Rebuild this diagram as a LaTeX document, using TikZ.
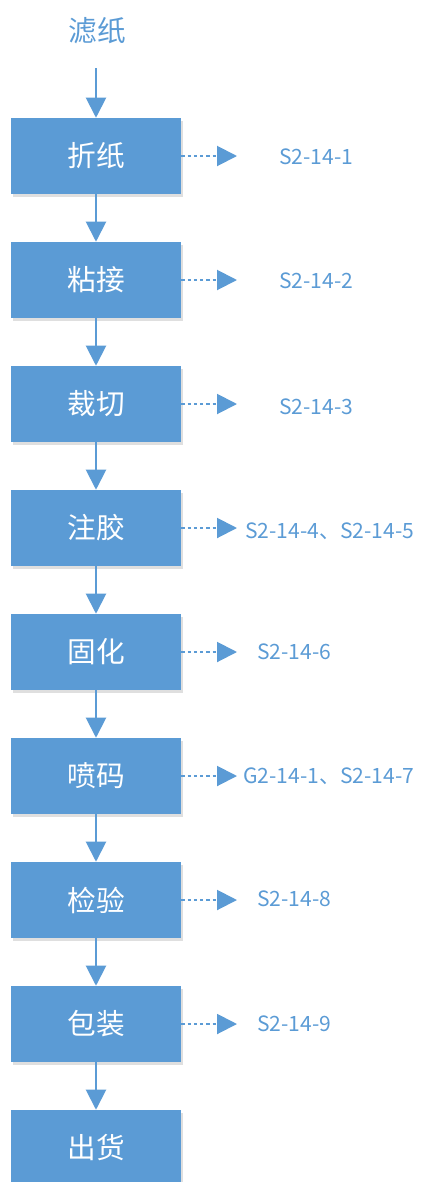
\documentclass[tikz,border=0pt]{standalone}
\usepackage{fontspec}
\setmainfont{Noto Sans CJK SC}
\usetikzlibrary{arrows.meta,shadows}
\definecolor{bx}{HTML}{5B9BD5}
\tikzset{
  proc/.style={fill=bx, draw=none, minimum width=127.5pt, minimum height=57pt, inner sep=0pt,
    text=white, font=\fontsize{21.5}{21.5}\selectfont,
    drop shadow={opacity=0.25, shadow xshift=1.5pt, shadow yshift=-2pt}},
  flow/.style={draw=bx, line width=1.5pt, -{Triangle[length=15pt,width=15pt]}},
  emit/.style={draw=bx, line width=1.5pt, dash pattern=on 2.5pt off 2.2pt, -{Triangle[length=15pt,width=15pt]}},
  lbl/.style={text=bx, font=\fontsize{15.8}{15.8}\selectfont, inner sep=0pt, anchor=west},
}
\begin{document}
\begin{tikzpicture}[x=0.75pt,y=-0.75pt]
\useasboundingbox (0,0) rectangle (423,1182);
\node[text=bx, font=\fontsize{21.5}{21.5}\selectfont] (src) at (97,31) {滤纸};
\coordinate (srcend) at (96,68);
\node[proc] (p1) at (96,156) {折纸};
\node[proc] (p2) at (96,280) {粘接};
\node[proc] (p3) at (96,404) {裁切};
\node[proc] (p4) at (96,528) {注胶};
\node[proc] (p5) at (96,652) {固化};
\node[proc] (p6) at (96,776) {喷码};
\node[proc] (p7) at (96,900) {检验};
\node[proc] (p8) at (96,1024) {包装};
\node[proc] (p9) at (96,1148) {出货};
\draw[flow] (srcend) -- (p1.north);
\foreach \a/\b in {p1/p2,p2/p3,p3/p4,p4/p5,p5/p6,p6/p7,p7/p8,p8/p9}
  \draw[flow] (\a.south) -- (\b.north);
\node[lbl] (l1) at (279,157) {S2-14-1};
\node[lbl] (l2) at (279,281) {S2-14-2};
\node[lbl] (l3) at (279,407) {S2-14-3};
\node[lbl] (l4) at (245,531) {S2-14-4、S2-14-5};
\node[lbl] (l5) at (257,652) {S2-14-6};
\node[lbl] (l6) at (243,776) {G2-14-1、S2-14-7};
\node[lbl] (l7) at (257,899) {S2-14-8};
\node[lbl] (l8) at (257,1024) {S2-14-9};
\foreach \i in {1,...,8}{
  \coordinate (t\i) at (237,0);
  \draw[emit] (p\i.east) -- (t\i |- p\i.east);
}
\end{tikzpicture}
\end{document}
